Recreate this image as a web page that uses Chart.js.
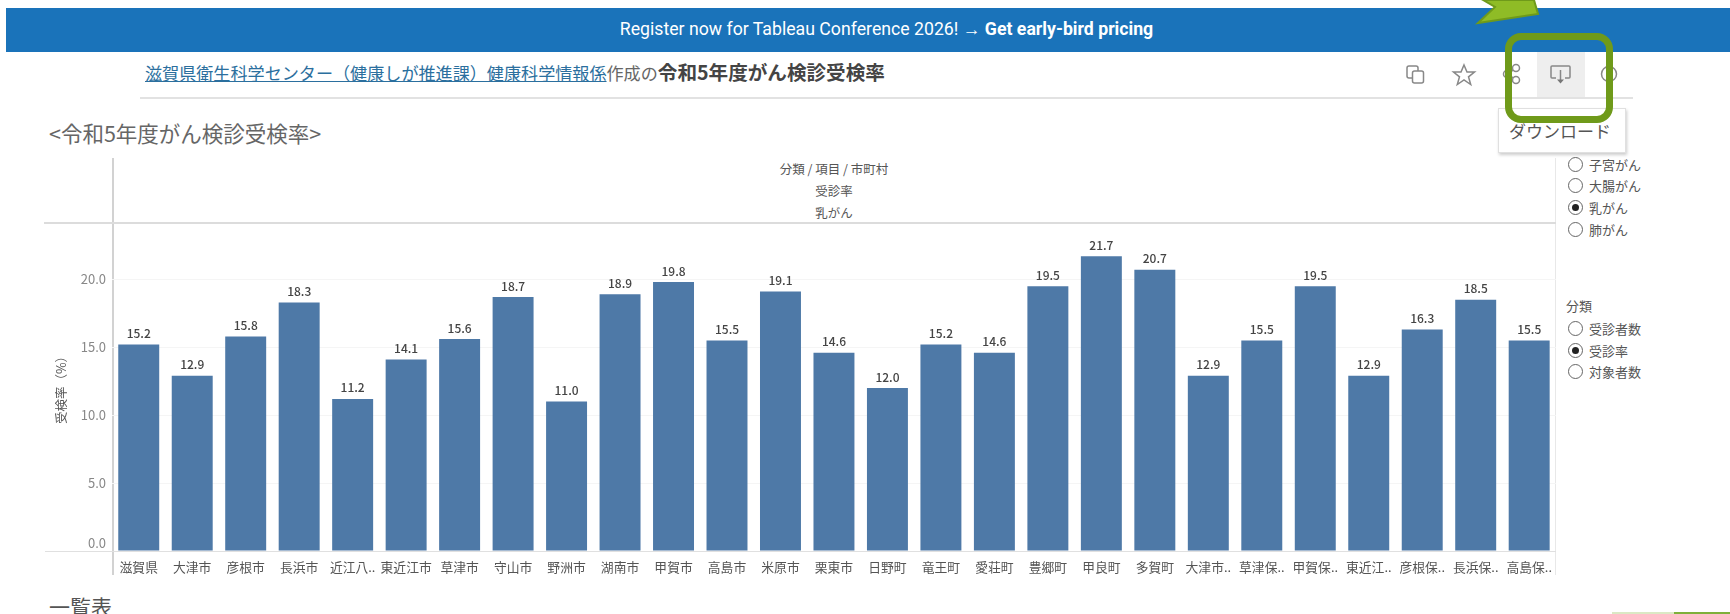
<!DOCTYPE html>
<html lang="ja"><head><meta charset="utf-8">
<script src="https://cdn.jsdelivr.net/npm/chart.js@4/dist/chart.umd.min.js"></script>
<style>
html,body{margin:0;padding:0;background:#fff;overflow:hidden}
body{width:1730px;height:614px;position:relative;font-family:"Noto Sans CJK JP","Noto Sans",sans-serif;color:#555}
.a{position:absolute;white-space:nowrap;line-height:1}
.c{transform:translate(-50%,-50%)}
.r{position:absolute;width:13px;height:13px;border:1.2px solid #666;border-radius:50%;box-sizing:content-box}
.r.on::after{content:"";position:absolute;left:3px;top:3px;width:7px;height:7px;border-radius:50%;background:#222}
.t{position:absolute;left:1589px;font-size:13px;line-height:1;color:#555;white-space:nowrap}
canvas{display:block}
</style></head><body>
<div class="a" style="left:6px;top:8px;width:1724px;height:44px;background:#1a73ba"></div>
<div class="a c" style="left:886.500px;top:29px;color:#fff;font:17.700px Roboto,sans-serif">Register now for Tableau Conference 2026! → <b>Get early-bird pricing</b></div>

<div class="a" style="left:145px;top:60.500px;font-size:17.100px;color:#666;line-height:22px"><span style="color:#2b6f9e;text-decoration:underline">滋賀県衛生科学センター（健康しが推進課）健康科学情報係</span>作成の<b style="color:#444;font-size:19.600px">令和5年度がん検診受検率</b></div>
<div class="a" style="left:140px;top:97px;width:1493px;height:2px;background:#e2e2e2"></div>

<div class="a" style="left:1537px;top:52px;width:48px;height:45px;background:#eee"></div>
<svg class="a" style="left:0;top:0" width="1730" height="614" fill="none" stroke="#888" stroke-width="1.500">
  <rect x="1407" y="66" width="11" height="12" rx="2"/><rect x="1412.500" y="71" width="11" height="12" rx="2" fill="#fff"/>
  <path d="M1464 65l3 7h7.500l-6 4.800 2.200 7.700-6.700-4.500-6.700 4.500 2.200-7.700-6-4.800h7.500z"/>
  <path d="M1514 69.500l-6 4.500 6 4.500"/>
  <circle cx="1516" cy="68" r="3.500" fill="#fff"/><circle cx="1507" cy="74" r="3.500" fill="#fff"/><circle cx="1516" cy="80" r="3.500" fill="#fff"/>
  <path d="M1556 78h-4a1 1 0 0 1-1-1V67a1 1 0 0 1 1-1h17a1 1 0 0 1 1 1v10a1 1 0 0 1-1 1h-4M1560.500 70v10"/>
  <path d="M1557 79.500h7l-3.500 4z" fill="#777" stroke="none"/>
  <ellipse cx="1609" cy="74" rx="7.500" ry="7.500"/>
</svg>

<div class="a" style="left:49px;top:122px;font-size:21.500px;color:#666">&lt;令和5年度がん検診受検率&gt;</div>

<div class="a" style="left:112px;top:158px;width:2px;height:417px;background:#d2d2d2"></div>
<div class="a" style="left:1555px;top:158px;width:1px;height:417px;background:#e8e8e8"></div>
<div class="a" style="left:44px;top:222px;width:1512px;height:2px;background:#dcdcdc"></div>
<div class="a" style="left:45px;top:551px;width:67px;height:1px;background:#e0e0e0"></div>
<div class="a c" style="left:834px;top:168.500px;font-size:12.500px">分類 / 項目 / 市町村</div>
<div class="a c" style="left:834px;top:190.500px;font-size:12.500px">受診率</div>
<div class="a c" style="left:834px;top:212.500px;font-size:12.500px">乳がん</div>

<div class="a" style="left:44px;top:200px;width:1516px;height:380px"><canvas id="chart" width="1516" height="380"></canvas></div>

<div class="r" style="left:1568px;top:157px"></div><div class="t" style="top:158px">子宮がん</div>
<div class="r" style="left:1568px;top:178px"></div><div class="t" style="top:179px">大腸がん</div>
<div class="r on" style="left:1568px;top:200px"></div><div class="t" style="top:201px">乳がん</div>
<div class="r" style="left:1568px;top:222px"></div><div class="t" style="top:223px">肺がん</div>
<div class="t" style="left:1566px;top:299px">分類</div>
<div class="r" style="left:1568px;top:321px"></div><div class="t" style="top:322px">受診者数</div>
<div class="r on" style="left:1568px;top:343px"></div><div class="t" style="top:344px">受診率</div>
<div class="r" style="left:1568px;top:364px"></div><div class="t" style="top:365px">対象者数</div>

<div class="a" style="left:1498px;top:108px;width:126px;height:43px;background:#fff;border:1px solid #e0e0e0;box-shadow:1px 2px 3px rgba(0,0,0,.2)"></div>
<div class="a c" style="left:1560px;top:130px;font-size:17px;color:#555">ダウンロード</div>
<div class="a" style="left:1505px;top:33px;width:108px;height:90px;box-sizing:border-box;border:7px solid #6f9a1a;border-radius:16px"></div>
<svg class="a" style="left:0;top:0" width="1730" height="40"><polygon points="1483,0 1495,7 1478,23 1538,14 1534,0" fill="#8fbc26" stroke="#6f9a1a" stroke-width="2"/></svg>

<div class="a" style="left:49px;top:596px;font-size:21px;color:#555">一覧表</div>
<div class="a" style="left:1612px;top:612px;width:62px;height:2px;background:#dbe8c4"></div>
<div class="a" style="left:1674px;top:612px;width:56px;height:2px;background:#7fb03a"></div>

<script>
const categories = ["滋賀県","大津市","彦根市","長浜市","近江八..","東近江市","草津市","守山市","野洲市","湖南市","甲賀市","高島市","米原市","栗東市","日野町","竜王町","愛荘町","豊郷町","甲良町","多賀町","大津市..","草津保..","甲賀保..","東近江..","彦根保..","長浜保..","高島保.."];
const rates = [15.2,12.9,15.8,18.3,11.2,14.1,15.6,18.7,11.0,18.9,19.8,15.5,19.1,14.6,12.0,15.2,14.6,19.5,21.7,20.7,12.9,15.5,19.5,12.9,16.3,18.5,15.5];
const axisMax = 24.15;
const yTickStep = 5;
const yTitle = "受検率（%）";
const FONT = '"Noto Sans CJK JP","Noto Sans",sans-serif';

const barLabels = {
  id: "barLabels",
  afterDatasetsDraw(chart) {
    const { ctx } = chart;
    const meta = chart.getDatasetMeta(0);
    ctx.save();
    ctx.font = "500 12px " + FONT;
    ctx.fillStyle = "#444";
    ctx.textAlign = "center";
    ctx.textBaseline = "middle";
    meta.data.forEach((bar, i) => ctx.fillText(rates[i].toFixed(1), bar.x, bar.y - 11));
    ctx.restore();
  }
};

new Chart(document.getElementById("chart"), {
  type: "bar",
  data: { labels: categories, datasets: [{ data: rates, backgroundColor: "#4e79a7", barPercentage: 0.766, categoryPercentage: 1 }] },
  plugins: [barLabels],
  options: {
    responsive: false, animation: false,
    layout: { padding: { top: 23, right: 3.5, left: 0, bottom: 0 } },
    plugins: { legend: { display: false }, tooltip: { enabled: false } },
    scales: {
      x: {
        grid: { display: false, drawTicks: false },
        border: { color: "#e0e0e0" },
        ticks: { autoSkip: false, maxRotation: 0, minRotation: 0, padding: 8, color: "#555", font: { family: FONT, size: 12.8 } },
        afterFit(s) { s.height = 29; }
      },
      y: {
        min: 0, max: axisMax,
        grid: { color: "#f5f5f5", drawTicks: false },
        border: { display: false },
        title: { display: true, text: yTitle, color: "#555", padding: { top: 10, bottom: 0 }, font: { family: FONT, size: 12.5 } },
        ticks: {
          stepSize: yTickStep, includeBounds: false, padding: 6, color: "#888",
          font: { family: FONT, size: 13 },
          callback: v => v === 0 ? ["0.0", ""] : v.toFixed(1)
        },
        afterFit(s) { s.width = 68; }
      }
    }
  }
});
</script>
</body></html>
